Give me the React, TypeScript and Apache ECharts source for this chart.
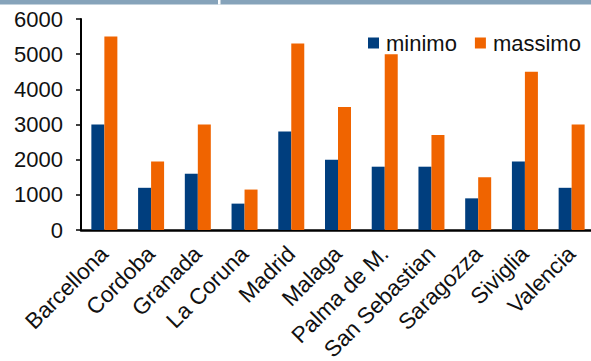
import React, { useEffect, useRef } from "react";
import * as echarts from "echarts";

const categories = [
  "Barcellona",
  "Cordoba",
  "Granada",
  "La Coruna",
  "Madrid",
  "Malaga",
  "Palma de M.",
  "San Sebastian",
  "Saragozza",
  "Siviglia",
  "Valencia",
];
const minimo = [3000, 1200, 1600, 750, 2800, 2000, 1800, 1800, 900, 1950, 1200];
const massimo = [5500, 1950, 3000, 1150, 5300, 3500, 5000, 2700, 1500, 4500, 3000];

export default function App() {
  const ref = useRef<HTMLDivElement>(null);
  useEffect(() => {
    if (!ref.current) return;
    const chart = echarts.init(ref.current, null, { renderer: "svg" });
    const font = "'Liberation Sans', Arial, sans-serif";
    chart.setOption({
      animation: false,
      backgroundColor: "#ffffff",
      textStyle: { fontFamily: font },
      graphic: [
        { type: "rect", shape: { x: 0, y: 0, width: 591, height: 4.5 }, style: { fill: "#86A3BA" } },
        { type: "rect", shape: { x: 218, y: 0, width: 2.5, height: 4.5 }, style: { fill: "#ffffff" } },
      ],
      legend: {
        left: 363,
        top: 27,
        itemWidth: 11,
        itemHeight: 11,
        itemGap: 18,
        icon: "rect",
        textStyle: { fontSize: 22, color: "#111", fontFamily: font, padding: [0, 0, 0, 2] },
        data: ["minimo", "massimo"],
      },
      grid: {
        left: 81,
        top: 19,
        width: 514,
        bottom: 131,
        containLabel: false,
        outerBoundsMode: "none",
      },
      xAxis: {
        type: "category",
        data: categories,
        axisLine: { show: true, lineStyle: { color: "#000", width: 2.5 } },
        axisTick: { show: false },
        axisLabel: {
          rotate: 45,
          interval: 0,
          fontSize: 22.5,
          color: "#111",
          margin: 20,
          fontFamily: font,
        },
      },
      yAxis: {
        type: "value",
        min: 0,
        max: 6000,
        interval: 1000,
        splitLine: { show: false },
        axisLine: { show: true, lineStyle: { color: "#000", width: 2 } },
        axisTick: { show: true, length: 5, lineStyle: { color: "#000", width: 1.5 } },
        axisLabel: {
          fontSize: 22,
          color: "#111",
          margin: 18,
          fontFamily: font,
          formatter: (v: number) => String(v),
        },
      },
      series: [
        {
          name: "minimo",
          type: "bar",
          data: minimo,
          barWidth: 13,
          barGap: "0%",
          itemStyle: { color: "#003E7E" },
        },
        {
          name: "massimo",
          type: "bar",
          data: massimo,
          barWidth: 13,
          barGap: "0%",
          itemStyle: { color: "#F06400" },
        },
      ],
    });
    return () => chart.dispose();
  }, []);
  return <div ref={ref} style={{ width: 591, height: 361, position: "absolute", left: 0, top: 0 }} />;
}
